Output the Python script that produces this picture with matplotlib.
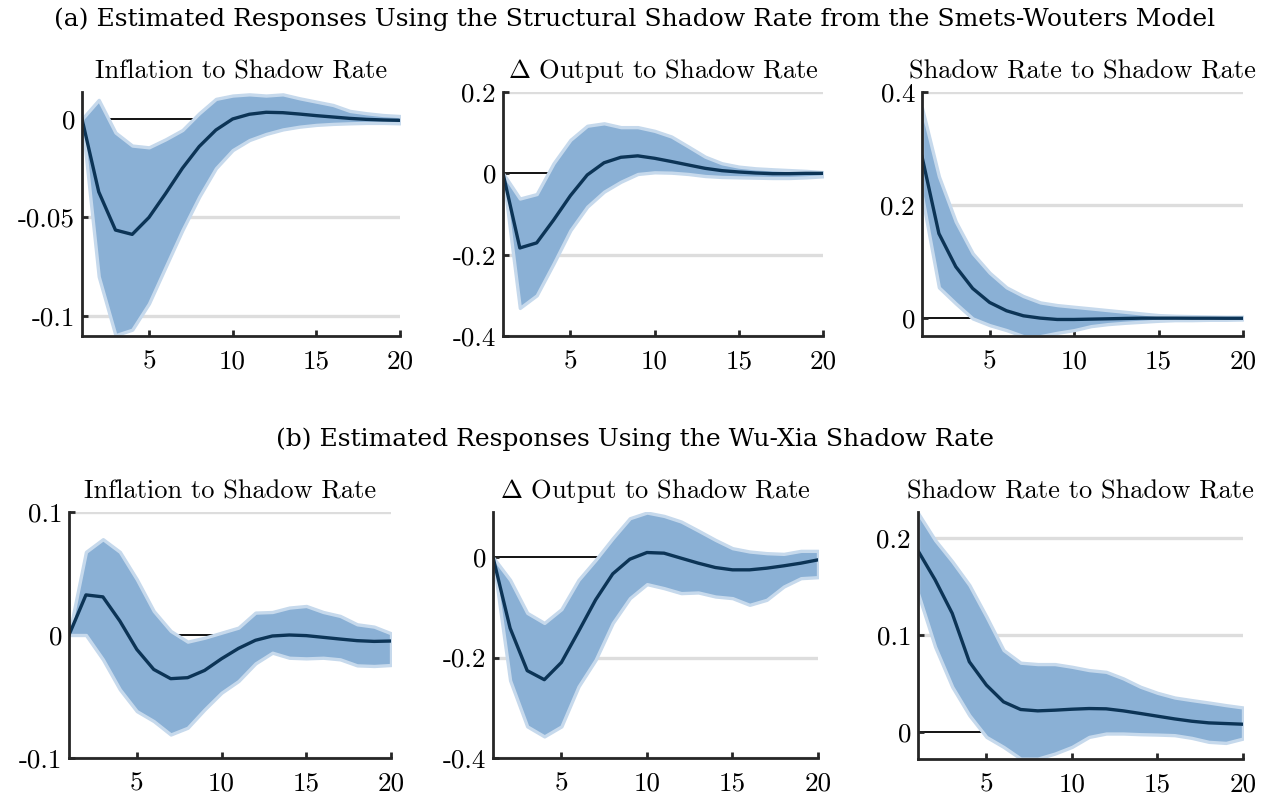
import matplotlib
matplotlib.use('Agg')
import matplotlib.pyplot as plt

plt.rcParams['font.family'] = ['cmr10', 'DejaVu Serif']
plt.rcParams['mathtext.fontset'] = 'cm'
plt.rcParams['axes.unicode_minus'] = False

horizon = list(range(1, 21))

# (a) Smets-Wouters structural shadow rate
a_infl_med = [0, -0.037, -0.0564, -0.0586, -0.050, -0.0378, -0.025, -0.014, -0.0056, 0.0,
              0.0024, 0.0034, 0.0032, 0.0025, 0.0017, 0.001, 0.0003, -0.0002, -0.0005, -0.0007]
a_infl_hi = [0, 0.0097, -0.0069, -0.0135, -0.0144, -0.0103, -0.0056, 0.0029, 0.0102, 0.0119,
             0.0125, 0.0119, 0.0125, 0.0105, 0.0088, 0.0071, 0.0041, 0.0029, 0.002, 0.0015]
a_infl_lo = [0, -0.080, -0.1098, -0.107, -0.0937, -0.075, -0.0564, -0.0395, -0.025, -0.0158,
             -0.0107, -0.0076, -0.0053, -0.0039, -0.003, -0.0025, -0.0022, -0.002, -0.002, -0.0022]

a_out_med = [0, -0.1835, -0.171, -0.115, -0.055, -0.004, 0.026, 0.0395, 0.043, 0.037,
             0.029, 0.0206, 0.0123, 0.0066, 0.0033, 0.0008, -0.0008, -0.0008, 0.0, 0.0]
a_out_hi = [0, -0.062, -0.051, 0.0247, 0.0823, 0.117, 0.123, 0.1136, 0.1136, 0.1045,
            0.0905, 0.066, 0.041, 0.0247, 0.0165, 0.0123, 0.01, 0.008, 0.006, 0.003]
a_out_lo = [0, -0.331, -0.300, -0.222, -0.140, -0.082, -0.045, -0.0206, -0.0016, 0.0025,
            0.0016, -0.0016, -0.0066, -0.009, -0.0099, -0.0107, -0.0115, -0.0115, -0.0099, -0.0074]

a_rate_med = [0.286, 0.150, 0.0914, 0.053, 0.0283, 0.0136, 0.0047, 0.0006, -0.0018, -0.0018,
              -0.0012, -0.0006, 0.0, 0.0005, 0.0005, 0.0005, 0.0004, 0.0004, 0.0003, 0.0003]
a_rate_hi = [0.372, 0.251, 0.171, 0.115, 0.0808, 0.0549, 0.0395, 0.0283, 0.0236, 0.0206,
             0.0177, 0.0147, 0.0118, 0.0088, 0.0059, 0.0047, 0.0041, 0.0035, 0.003, 0.003]
a_rate_lo = [0.2165, 0.0549, 0.0265, 0.0, -0.0118, -0.0206, -0.0313, -0.0313, -0.0254, -0.0206,
             -0.0136, -0.010, -0.0077, -0.0059, -0.0041, -0.003, -0.003, -0.0024, -0.0024, -0.0018]

# (b) Wu-Xia shadow rate
b_infl_med = [0, 0.0326, 0.031, 0.0114, -0.0117, -0.028, -0.0355, -0.0347, -0.0288, -0.0193,
              -0.0109, -0.0043, -0.0008, 0.0, -0.0005, -0.0019, -0.0033, -0.0046, -0.0052, -0.0049]
b_infl_hi = [0, 0.0676, 0.0779, 0.0676, 0.0453, 0.0195, 0.0033, -0.0054, -0.0022, 0.0019,
             0.006, 0.0182, 0.0187, 0.0223, 0.0236, 0.0187, 0.0155, 0.0087, 0.0068, 0.0014]
b_infl_lo = [0, 0.0, -0.0198, -0.0442, -0.0619, -0.070, -0.0809, -0.0754, -0.0605, -0.0469,
             -0.0374, -0.0231, -0.0144, -0.0185, -0.019, -0.0185, -0.0198, -0.0247, -0.0252, -0.0244]

b_out_med = [0, -0.1413, -0.226, -0.244, -0.2096, -0.148, -0.0849, -0.0332, -0.004, 0.0093,
             0.008, -0.002, -0.0119, -0.0206, -0.0252, -0.0252, -0.0219, -0.0172, -0.0119, -0.0053]
b_out_hi = [0, -0.0451, -0.111, -0.131, -0.1035, -0.0451, -0.0053, 0.0378, 0.0776, 0.0889,
            0.0822, 0.071, 0.053, 0.0345, 0.0179, 0.0113, 0.008, 0.0066, 0.0126, 0.0126]
b_out_lo = [0, -0.2454, -0.337, -0.357, -0.337, -0.2574, -0.2043, -0.131, -0.0816, -0.0537,
            -0.0617, -0.0716, -0.0703, -0.0783, -0.0816, -0.0949, -0.0849, -0.0584, -0.0418, -0.0398]

b_rate_med = [0.187, 0.157, 0.1224, 0.0724, 0.0483, 0.031, 0.0231, 0.0217, 0.0224, 0.0234,
              0.0241, 0.0238, 0.0217, 0.019, 0.0162, 0.0134, 0.011, 0.0093, 0.0086, 0.0079]
b_rate_hi = [0.226, 0.198, 0.176, 0.1517, 0.119, 0.0845, 0.0714, 0.070, 0.070, 0.0672,
             0.0638, 0.062, 0.0552, 0.0466, 0.0403, 0.0355, 0.0328, 0.0303, 0.0276, 0.0252]
b_rate_lo = [0.1431, 0.0879, 0.0466, 0.0172, -0.0052, -0.0155, -0.0276, -0.0276, -0.0224, -0.0155,
             -0.0052, -0.0017, -0.0017, -0.0024, -0.0028, -0.0034, -0.0062, -0.0103, -0.0114, -0.0069]

titles = ['Inflation to Shadow Rate', r'$\Delta$ Output to Shadow Rate', 'Shadow Rate to Shadow Rate']

W, H = 1270, 800
fig = plt.figure(figsize=(12.7, 8), dpi=100)


def px_axes(x0, x1, y0, y1):
    return fig.add_axes([x0 / W, 1 - y1 / H, (x1 - x0) / W, (y1 - y0) / H])


def draw_panel(ax, title, med, hi, lo, ylim, yticks, ylabels):
    for t in yticks:
        if t != 0:
            ax.axhline(t, color='#dddddd', lw=2.4, zorder=0)
    ax.axhline(0, color='black', lw=1.3, zorder=1)
    ax.fill_between(horizon, lo, hi, facecolor='#8ab0d5', edgecolor='#c6d9ec',
                    lw=2.4, zorder=2)
    ax.plot(horizon, med, color='#0c3456', lw=2.4, zorder=3)
    ax.set_xlim(1, 20)
    ax.set_ylim(*ylim)
    ax.set_xticks([5, 10, 15, 20])
    ax.set_yticks(yticks)
    ax.set_yticklabels(ylabels)
    for s in ['top', 'right']:
        ax.spines[s].set_visible(False)
    for s in ['left', 'bottom']:
        ax.spines[s].set_linewidth(2.0)
        ax.spines[s].set_color('#262626')
        ax.spines[s].set_zorder(5)
    ax.tick_params(direction='in', length=4, width=2, color='#262626', labelsize=19.5)
    ax.tick_params(axis='x', pad=10)
    ax.tick_params(axis='y', pad=5)
    ax.set_title(title, fontsize=19, pad=10)
    ax.patch.set_alpha(0)


ax = px_axes(82, 400, 92, 336)
draw_panel(ax, titles[0], a_infl_med, a_infl_hi, a_infl_lo, (-0.1102, 0.0137),
           [-0.1, -0.05, 0], ['-0.1', '-0.05', '0'])
ax = px_axes(503, 823, 92, 336)
draw_panel(ax, titles[1], a_out_med, a_out_hi, a_out_lo, (-0.4, 0.2),
           [-0.4, -0.2, 0, 0.2], ['-0.4', '-0.2', '0', '0.2'])
ax = px_axes(922, 1243, 92, 336)
draw_panel(ax, titles[2], a_rate_med, a_rate_hi, a_rate_lo, (-0.031, 0.4),
           [0, 0.2, 0.4], ['0', '0.2', '0.4'])

ax = px_axes(69, 391, 512, 758)
draw_panel(ax, titles[0], b_infl_med, b_infl_hi, b_infl_lo, (-0.1, 0.1),
           [-0.1, 0, 0.1], ['-0.1', '0', '0.1'])
ax = px_axes(493, 818, 512, 758)
draw_panel(ax, titles[1], b_out_med, b_out_hi, b_out_lo, (-0.4, 0.09),
           [-0.4, -0.2, 0], ['-0.4', '-0.2', '0'])
ax = px_axes(918, 1243, 512, 759)
draw_panel(ax, titles[2], b_rate_med, b_rate_hi, b_rate_lo, (-0.028, 0.227),
           [0, 0.1, 0.2], ['0', '0.1', '0.2'])

fig.text(0.5, 1 - 19 / H, '(a) Estimated Responses Using the Structural Shadow Rate from the Smets-Wouters Model',
         ha='center', va='center', fontsize=18, family='DejaVu Serif')
fig.text(0.5, 1 - 439 / H, '(b) Estimated Responses Using the Wu-Xia Shadow Rate',
         ha='center', va='center', fontsize=18, family='DejaVu Serif')

fig.savefig('out.png', dpi=100)
